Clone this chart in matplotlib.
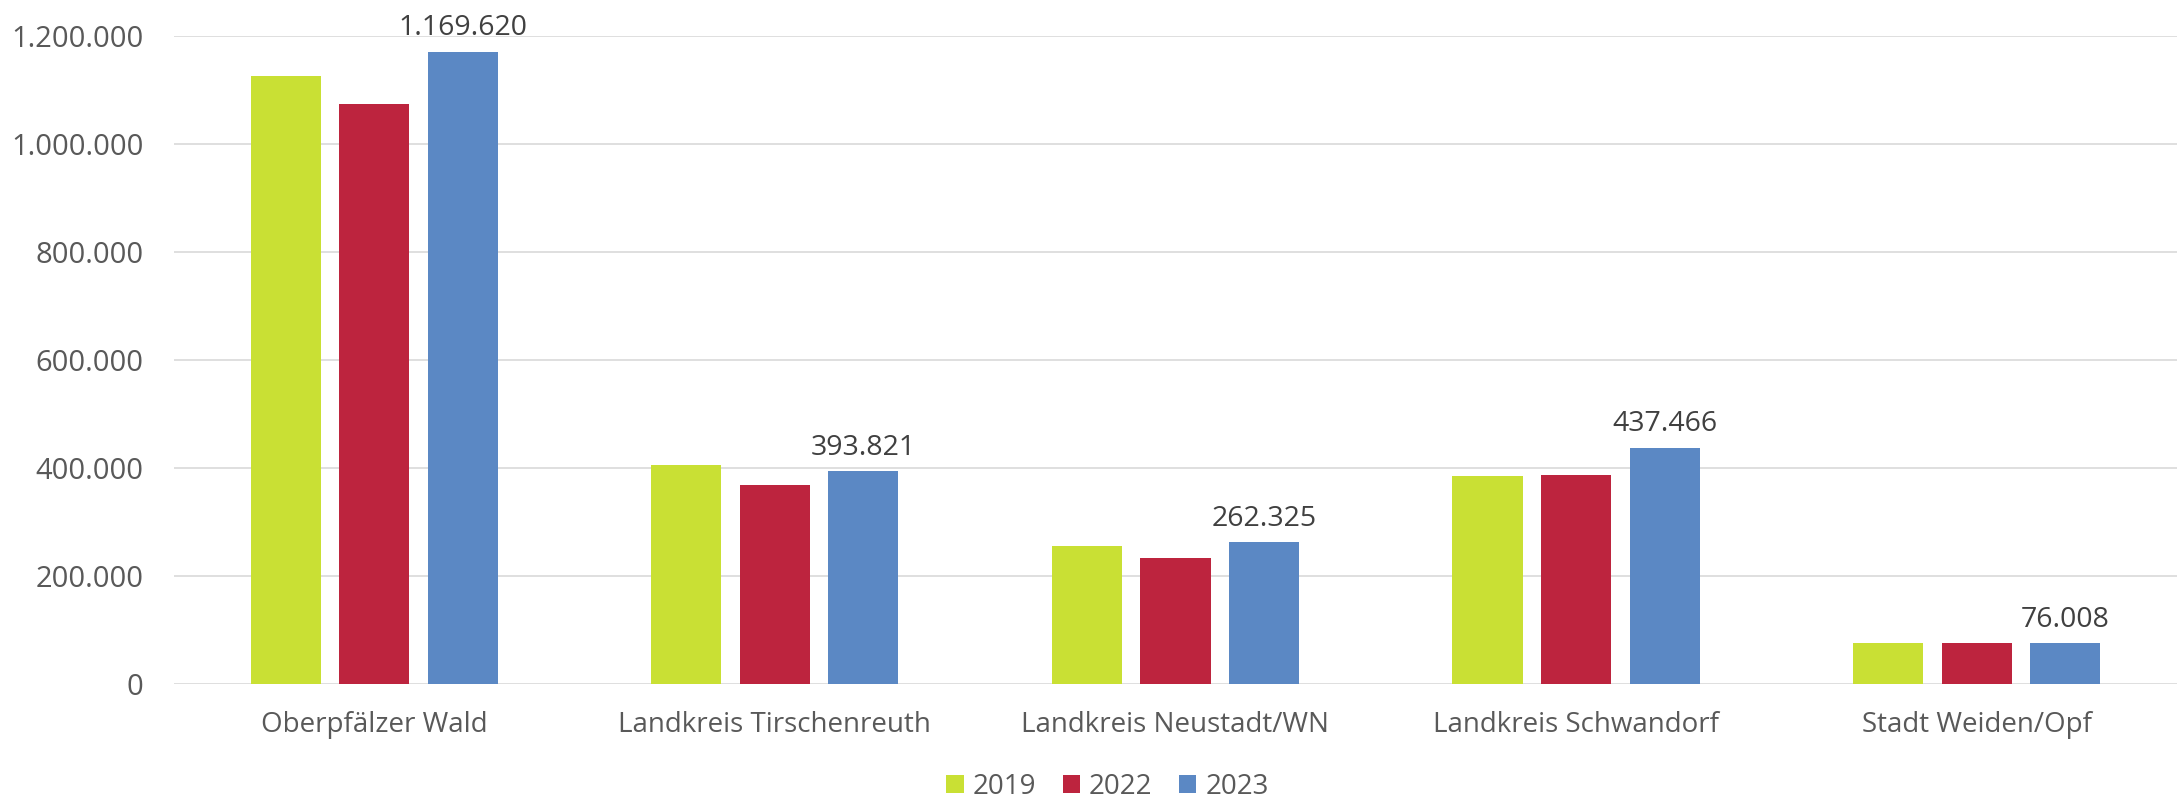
import matplotlib.pyplot as plt
import numpy as np
from matplotlib.ticker import FuncFormatter

plt.rcParams["font.family"] = ["Open Sans", "DejaVu Sans"]

regions = ["Oberpfälzer Wald", "Landkreis Tirschenreuth", "Landkreis Neustadt/WN",
           "Landkreis Schwandorf", "Stadt Weiden/Opf"]
years = ["2019", "2022", "2023"]
values_2019 = [1126000, 406500, 256000, 385500, 76500]
values_2022 = [1074000, 368000, 233500, 388000, 75500]
values_2023 = [1169620, 393821, 262325, 437466, 76008]
colors = ["#c9e034", "#bd243e", "#5b88c4"]
yticks = [0, 200000, 400000, 600000, 800000, 1000000, 1200000]

text_color = "#595959"

def dotted(v, pos=None):
    return f"{v:,.0f}".replace(",", ".")

fig = plt.figure(figsize=(21.8, 8.02), dpi=100)
ax = fig.add_axes([0.0798, 0.1468, 0.9188, 0.8087])

x = np.arange(len(regions))
width = 0.175
step = 0.221
series = [values_2019, values_2022, values_2023]
for i, (vals, year, col) in enumerate(zip(series, years, colors)):
    bars = ax.bar(x + (i - 1) * step, vals, width, color=col, label=year, zorder=3)
    if year == "2023":
        for b, v in zip(bars, vals):
            ax.annotate(dotted(v), (b.get_x() + b.get_width() / 2, v),
                        xytext=(0, 12), textcoords="offset points",
                        ha="center", va="baseline", fontsize=20.5, color="#404040")

ax.set_xlim(-0.5, len(regions) - 0.5)
ax.set_ylim(0, 1200000)
ax.set_yticks(yticks)
ax.yaxis.set_major_formatter(FuncFormatter(dotted))
ax.set_xticks(x)
ax.set_xticklabels(regions)
ax.tick_params(axis="both", length=0, labelcolor=text_color)
ax.tick_params(axis="y", pad=22, labelsize=21)
ax.tick_params(axis="x", pad=19, labelsize=20)

ax.grid(axis="y", color="#d9d9d9", linewidth=1.2, zorder=0)
for s in ax.spines.values():
    s.set_visible(False)

fig.legend(loc="center", bbox_to_anchor=(0.508, 0.019), ncol=3, frameon=False,
           fontsize=20, labelcolor=text_color, handlelength=0.62, handleheight=0.62,
           handletextpad=0.33, columnspacing=0.95)

fig.savefig("out.png", dpi=100, facecolor="white")
